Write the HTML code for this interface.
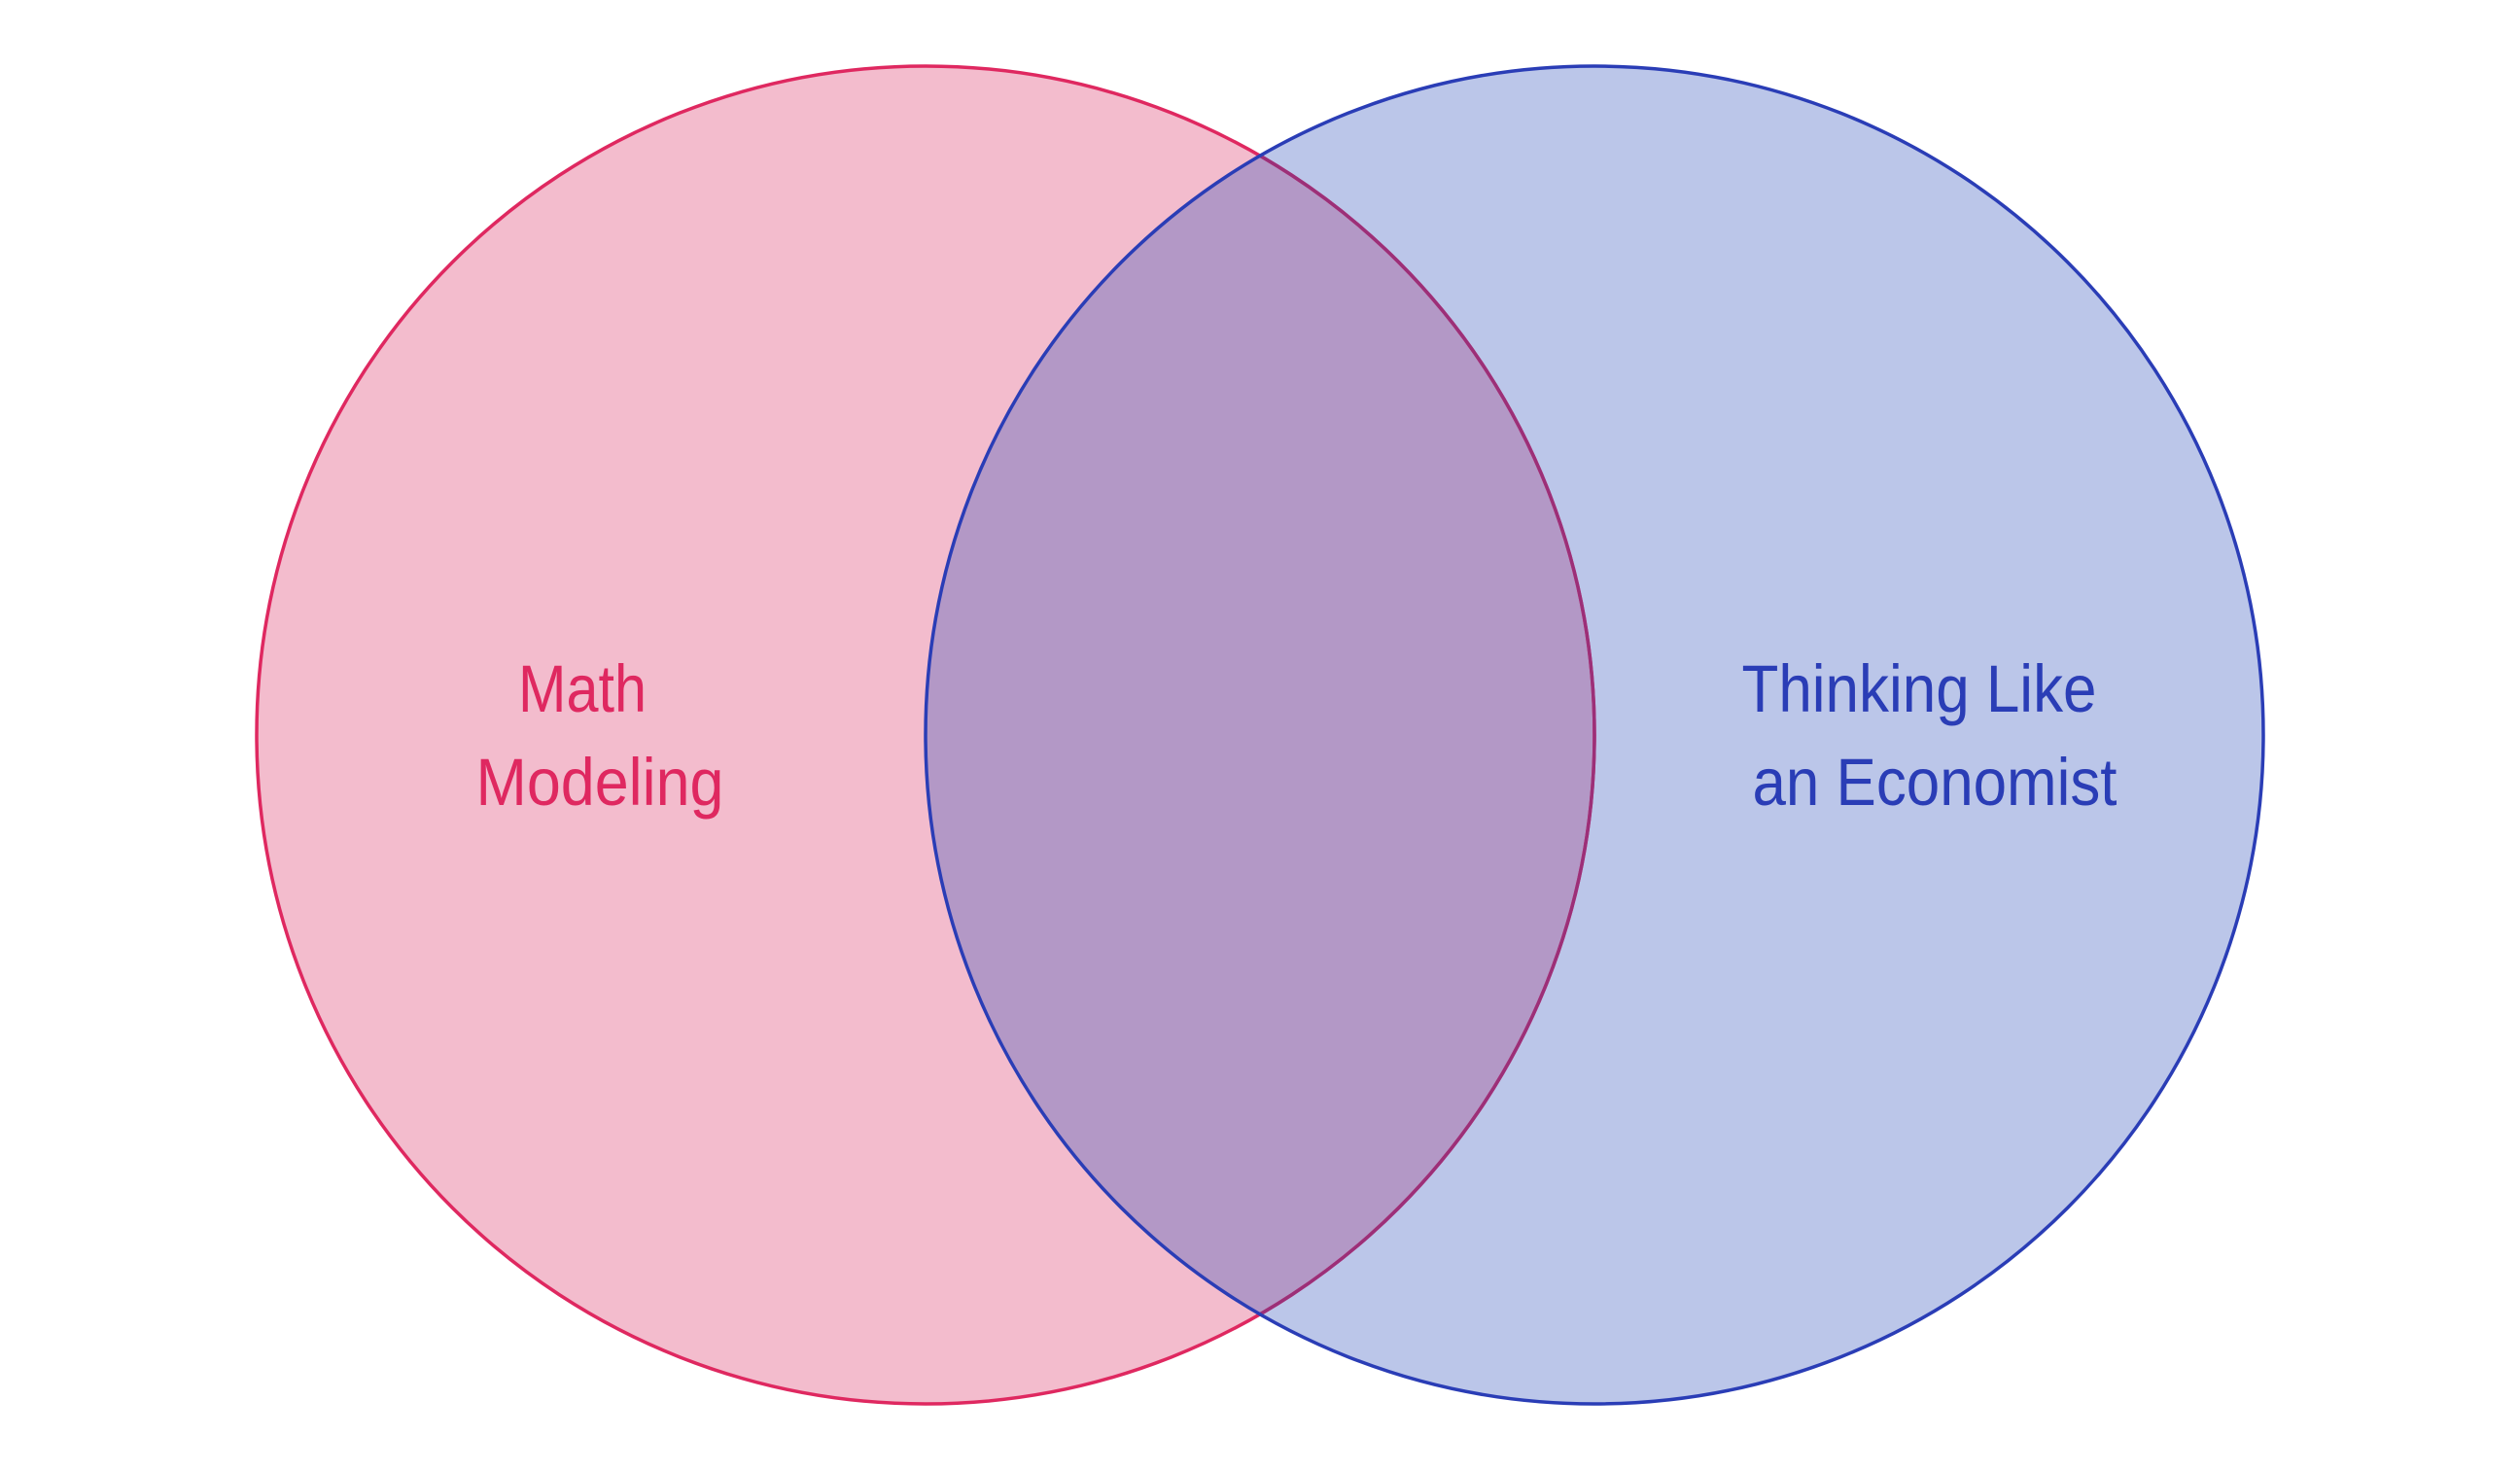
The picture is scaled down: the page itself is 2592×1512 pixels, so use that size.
<!DOCTYPE html>
<html><head><meta charset="utf-8"><style>html,body{margin:0;padding:0;background:#fff}svg{display:block}</style></head>
<body>
<svg width="2592" height="1512" viewBox="0 0 2592 1512" xmlns="http://www.w3.org/2000/svg">
<defs>
<clipPath id="cr"><circle cx="1640" cy="756" r="688"/></clipPath>
</defs>
<circle cx="952" cy="756" r="688" fill="#f3bccd"/>
<circle cx="1640" cy="756" r="688" fill="#bbc6e9"/>
<circle cx="952" cy="756" r="688" fill="#b398c6" clip-path="url(#cr)"/>
<circle cx="952" cy="756" r="688" fill="none" stroke="#df2860" stroke-width="3.5"/>
<circle cx="952" cy="756" r="688" fill="none" stroke="#9c2f78" stroke-width="3.5" clip-path="url(#cr)"/>
<circle cx="1640" cy="756" r="688" fill="none" stroke="#2a3db6" stroke-width="3.5"/>
<g font-family="Liberation Sans, sans-serif" font-size="69">
<text x="599" y="732" text-anchor="middle" fill="#df2860" textLength="132" lengthAdjust="spacingAndGlyphs">Math</text>
<text x="617" y="828" text-anchor="middle" fill="#df2860" textLength="255" lengthAdjust="spacingAndGlyphs">Modeling</text>
<text x="1974" y="732" text-anchor="middle" fill="#2a3db6" textLength="365" lengthAdjust="spacingAndGlyphs">Thinking Like</text>
<text x="1990" y="828" text-anchor="middle" fill="#2a3db6" textLength="375" lengthAdjust="spacingAndGlyphs">an Economist</text>
</g>
</svg>
</body></html>
